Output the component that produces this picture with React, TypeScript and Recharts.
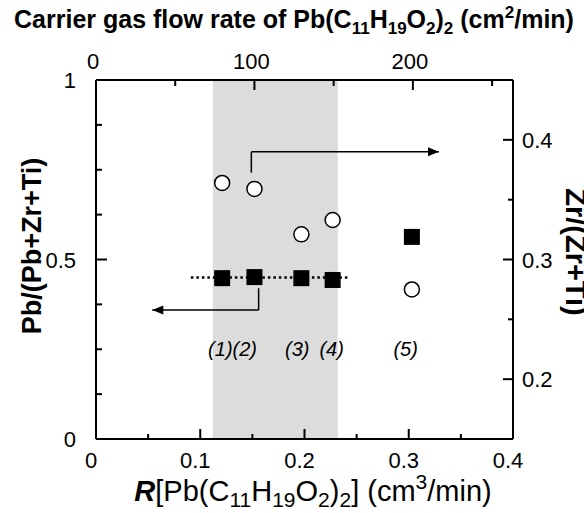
import {
  ComposedChart,
  Scatter,
  XAxis,
  YAxis,
  ReferenceArea,
  ReferenceLine,
  ReferenceDot,
} from 'recharts';

// R[Pb(C11H19O2)2] (cm3/min) for samples (1)..(5)
const rFlow = [0.121, 0.152, 0.197, 0.227, 0.303];
// Pb/(Pb+Zr+Ti), left axis, filled squares
const pbRatio = [0.448, 0.451, 0.448, 0.443, 0.563];
// Zr/(Zr+Ti), right axis, open circles
const zrRatio = [0.364, 0.359, 0.321, 0.333, 0.275];

const bottomMajor = [0, 0.1, 0.2, 0.3, 0.4];
const bottomMinor = [0.05, 0.15, 0.25, 0.35];
const leftMajor = [0, 0.5, 1];
const leftMinor = [0.125, 0.25, 0.375, 0.625, 0.75, 0.875];
const rightMajor = [0.2, 0.3, 0.4];
const rightMinor = [0.25, 0.35];
// carrier gas flow (cm2/min) ticks on the top axis
const topMajor = [0, 100, 200];
const topMinor = [50, 150, 250];
// carrier gas flow per unit of R
const flowPerR = 658;

// shaded region and guide line
const bandStart = 0.112;
const bandEnd = 0.232;
const dottedLine = [{ x: 0.091, y: 0.45 }, { x: 0.244, y: 0.45 }];

// arrows pointing to each axis
const upperArrow = [{ x: 0.149, y: 0.3725 }, { x: 0.149, y: 0.39 }, { x: 0.329, y: 0.39 }];
const lowerArrow = [{ x: 0.156, y: 0.42 }, { x: 0.156, y: 0.359 }, { x: 0.054, y: 0.359 }];

const sampleLabels = ['(1)(2)', '(3)', '(4)', '(5)'];
const sampleLabelX = [0.131, 0.193, 0.226, 0.297];
const sampleLabelY = 0.23;

const data = rFlow.map((r, i) => ({ r, pb: pbRatio[i], zr: zrRatio[i] }));

const FONT = '"Liberation Sans", Arial, sans-serif';
const TICK_FONT = 22;

const isIn = (list: number[], v: number) => list.some((m) => Math.abs(m - v) < 1e-6);
const sorted = (a: number[], b: number[]) => [...a, ...b].sort((p, q) => p - q);
const toR = (flow: number) => flow / flowPerR;

// tick labels only; the inward tick marks are drawn as reference dots
const BottomTick = ({ x, y, payload }: any) => (
  <text x={x - 5} y={y + 29} textAnchor="middle" fontSize={TICK_FONT} fontFamily={FONT} fill="#000">
    {String(payload.value)}
  </text>
);

const TopTick = ({ x, y, payload }: any) => (
  <text x={x - 3} y={y - 11} textAnchor="middle" fontSize={TICK_FONT} fontFamily={FONT} fill="#000">
    {String(Math.round(payload.value * flowPerR))}
  </text>
);

const LeftTick = ({ x, y, payload }: any) => (
  <text x={x - 20} y={y + 8} textAnchor="end" fontSize={TICK_FONT} fontFamily={FONT} fill="#000">
    {String(payload.value)}
  </text>
);

const RightTick = ({ x, y, payload }: any) => (
  <text x={x + 9} y={y + 8} textAnchor="start" fontSize={TICK_FONT} fontFamily={FONT} fill="#000">
    {String(payload.value)}
  </text>
);

const tickMark = (dx: number, dy: number) => ({ cx, cy }: any) =>
  <path d={`M${cx},${cy}l${dx},${dy}`} stroke="#000" strokeWidth={2} fill="none" />;

const SquareDot = ({ cx, cy }: any) => <rect x={cx - 8} y={cy - 8} width={16} height={16} fill="#000" />;
const CircleDot = ({ cx, cy }: any) => <circle cx={cx} cy={cy} r={7.5} fill="#fff" stroke="#000" strokeWidth={1.5} />;

const HeadRight = ({ cx, cy }: any) => <path d={`M${cx},${cy} l-11,-4.5 l0,9 z`} fill="#000" />;
const HeadLeft = ({ cx, cy }: any) => <path d={`M${cx},${cy} l11,-4.5 l0,9 z`} fill="#000" />;

const segments = (pts: { x: number; y: number }[]) =>
  pts.slice(1).map((p, i) => [pts[i], p] as [{ x: number; y: number }, { x: number; y: number }]);

const axisLine = { stroke: '#000', strokeWidth: 2 };

export default function App() {
  return (
    <div style={{ position: 'absolute', left: 0, top: 0, width: 584, height: 513, background: '#fff' }}>
      <ComposedChart width={584} height={513} data={data} margin={{ top: 0, right: 0, bottom: 0, left: 0 }}>
        <XAxis
          xAxisId="bottom"
          dataKey="r"
          type="number"
          domain={[0, 0.4]}
          allowDataOverflow
          ticks={bottomMajor}
          tick={(p: any) => <BottomTick {...p} />}
          tickLine={false}
          tickSize={0}
          tickMargin={0}
          height={74}
          interval={0}
          axisLine={axisLine}
        />
        <XAxis
          xAxisId="top"
          orientation="top"
          dataKey="r"
          type="number"
          domain={[0, 0.4]}
          allowDataOverflow
          ticks={topMajor.map(toR)}
          tick={(p: any) => <TopTick {...p} />}
          tickLine={false}
          tickSize={0}
          tickMargin={0}
          height={80}
          interval={0}
          axisLine={axisLine}
        />
        <YAxis
          yAxisId="left"
          dataKey="pb"
          type="number"
          domain={[0, 1]}
          allowDataOverflow
          ticks={leftMajor}
          tick={(p: any) => <LeftTick {...p} />}
          tickLine={false}
          tickSize={0}
          tickMargin={0}
          width={96}
          interval={0}
          axisLine={axisLine}
        />
        <YAxis
          yAxisId="right"
          orientation="right"
          dataKey="zr"
          type="number"
          domain={[0.15, 0.45]}
          allowDataOverflow
          ticks={rightMajor}
          tick={(p: any) => <RightTick {...p} />}
          tickLine={false}
          tickSize={0}
          tickMargin={0}
          width={71}
          interval={0}
          axisLine={axisLine}
        />

        <ReferenceArea
          xAxisId="bottom"
          yAxisId="left"
          x1={bandStart}
          x2={bandEnd}
          y1={0}
          y2={1}
          fill="#dcdcdc"
          fillOpacity={1}
          stroke="none"
        />

        {/* inward tick marks */}
        {sorted(bottomMajor, bottomMinor).map((v) => (
          <ReferenceDot key={`b${v}`} xAxisId="bottom" yAxisId="left" x={v} y={0} ifOverflow="visible"
            shape={tickMark(0, isIn(bottomMajor, v) ? -10 : -5)} />
        ))}
        {sorted(topMajor, topMinor).map((f) => (
          <ReferenceDot key={`t${f}`} xAxisId="top" yAxisId="left" x={toR(f)} y={1} ifOverflow="visible"
            shape={tickMark(0, isIn(topMajor, f) ? 10 : 6)} />
        ))}
        {sorted(leftMajor, leftMinor).map((v) => (
          <ReferenceDot key={`l${v}`} xAxisId="bottom" yAxisId="left" x={0} y={v} ifOverflow="visible"
            shape={tickMark(isIn(leftMajor, v) ? 11 : 6, 0)} />
        ))}
        {sorted(rightMajor, rightMinor).map((v) => (
          <ReferenceDot key={`r${v}`} xAxisId="bottom" yAxisId="right" x={0.4} y={v} ifOverflow="visible"
            shape={tickMark(isIn(rightMajor, v) ? -10 : -5, 0)} />
        ))}

        <ReferenceLine
          xAxisId="bottom"
          yAxisId="left"
          segment={dottedLine}
          stroke="#000"
          strokeWidth={2.5}
          strokeDasharray="2.5 3"
        />

        {segments(upperArrow).map((s, i) => (
          <ReferenceLine key={`u${i}`} xAxisId="top" yAxisId="right" segment={s} stroke="#000" strokeWidth={1.5} />
        ))}
        <ReferenceDot xAxisId="top" yAxisId="right" x={upperArrow[2].x} y={upperArrow[2].y} shape={<HeadRight />} />
        {segments(lowerArrow).map((s, i) => (
          <ReferenceLine key={`a${i}`} xAxisId="bottom" yAxisId="left" segment={s} stroke="#000" strokeWidth={1.5} />
        ))}
        <ReferenceDot xAxisId="bottom" yAxisId="left" x={lowerArrow[2].x} y={lowerArrow[2].y} shape={<HeadLeft />} />

        <Scatter xAxisId="bottom" yAxisId="left" dataKey="pb" shape={<SquareDot />} isAnimationActive={false} />
        <Scatter xAxisId="top" yAxisId="right" dataKey="zr" shape={<CircleDot />} isAnimationActive={false} />

        {sampleLabels.map((t, i) => (
          <ReferenceDot
            key={t}
            xAxisId="bottom"
            yAxisId="left"
            x={sampleLabelX[i]}
            y={sampleLabelY}
            shape={({ cx, cy }: any) => (
              <text x={cx} y={cy} textAnchor="middle" fontSize={20} fontStyle="italic" fontFamily={FONT} fill="#000">
                {t}
              </text>
            )}
          />
        ))}

        <text x={294} y={28} textAnchor="middle" fontSize={25} fontWeight="bold" fontFamily={FONT} fill="#000">
          Carrier gas flow rate of Pb(C<tspan dy={6} fontSize={17}>11</tspan>
          <tspan dy={-6}>H</tspan>
          <tspan dy={6} fontSize={17}>19</tspan>
          <tspan dy={-6}>O</tspan>
          <tspan dy={6} fontSize={17}>2</tspan>
          <tspan dy={-6}>)</tspan>
          <tspan dy={6} fontSize={17}>2</tspan>
          <tspan dy={-6}> (cm</tspan>
          <tspan dy={-10} fontSize={17}>2</tspan>
          <tspan dy={10}>/min)</tspan>
        </text>

        <text x={313} y={501} textAnchor="middle" fontSize={29} fontFamily={FONT} fill="#000">
          <tspan fontWeight="bold" fontStyle="italic">R</tspan>[Pb(C<tspan dy={6} fontSize={21}>11</tspan>
          <tspan dy={-6}>H</tspan>
          <tspan dy={6} fontSize={21}>19</tspan>
          <tspan dy={-6}>O</tspan>
          <tspan dy={6} fontSize={21}>2</tspan>
          <tspan dy={-6}>)</tspan>
          <tspan dy={6} fontSize={21}>2</tspan>
          <tspan dy={-6}>] (cm</tspan>
          <tspan dy={-12} fontSize={21}>3</tspan>
          <tspan dy={12}>/min)</tspan>
        </text>

        <text
          x={41}
          y={246}
          transform="rotate(-90, 41, 246)"
          textAnchor="middle"
          fontSize={27}
          fontWeight="bold"
          fontFamily={FONT}
          fill="#000"
        >
          Pb/(Pb+Zr+Ti)
        </text>
        <text
          x={566}
          y={252}
          transform="rotate(90, 566, 252)"
          textAnchor="middle"
          fontSize={29}
          fontWeight="bold"
          fontFamily={FONT}
          fill="#000"
        >
          Zr/(Zr+Ti)
        </text>
      </ComposedChart>
    </div>
  );
}
